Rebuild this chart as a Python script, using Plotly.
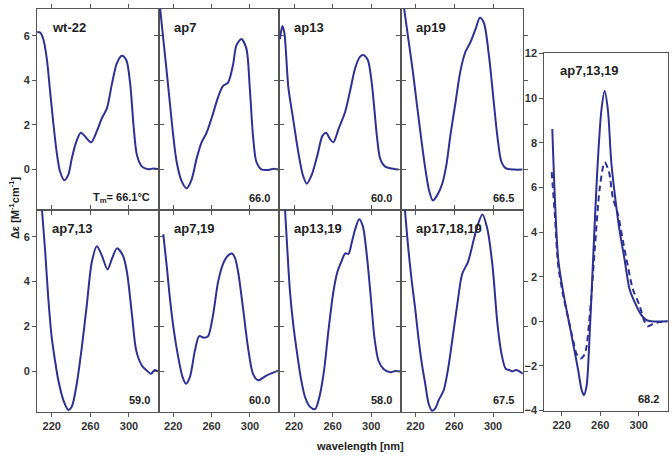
import plotly.graph_objects as go

W, H = 672, 459

# ---------------- data (wavelength nm, delta-epsilon) ----------------
wt22_x = [205, 208, 211.2, 214.8, 218.2, 221.6, 225.1, 228.6, 233, 237.2, 240.7, 245.2, 250.1, 255.6, 260.8, 266.7, 271.9, 277.1, 282.3, 287.5, 292.7, 297.2, 301.3, 304.8, 308.3, 313.5, 320.4, 325, 330]
wt22_y = [6.17, 6.14, 5.85, 4.98, 3.54, 2.09, 0.78, -0.09, -0.48, -0.23, 0.49, 1.22, 1.65, 1.43, 1.22, 1.72, 2.30, 2.74, 3.83, 4.77, 5.10, 4.91, 3.83, 1.94, 0.64, 0.13, 0.01, 0.05, 0.02]

ap7_x = [205, 209.7, 213.2, 216.6, 220.1, 223.6, 228.8, 234, 239.2, 244.4, 249.6, 254.8, 261.6, 266.8, 272, 277.2, 282.4, 285.9, 291.1, 296.3, 299.8, 303.2, 306.7, 311.9, 320.5, 324, 329.5]
ap7_y = [7.8, 5.85, 4.41, 2.96, 1.51, 0.35, -0.52, -0.84, -0.45, 0.49, 1.22, 1.65, 2.52, 3.25, 3.75, 3.90, 4.70, 5.57, 5.85, 5.42, 3.68, 1.51, 0.35, 0.01, -0.01, 0.03, 0.0]

ap13_x = [205.4, 207.8, 209.9, 214.1, 219.2, 224.4, 229, 233.2, 238.4, 244.2, 249.4, 253.2, 257.4, 260.8, 266, 273, 278.2, 283.4, 288.5, 292, 296.5, 300.7, 305.9, 309.3, 314.5, 319.7, 328.4]
ap13_y = [5.85, 6.43, 6.14, 3.68, 2.23, 0.78, -0.23, -0.64, -0.23, 0.64, 1.51, 1.65, 1.36, 1.22, 1.80, 2.59, 3.54, 4.55, 5.06, 5.13, 4.91, 3.83, 1.51, 0.49, 0.13, 0.06, 0.0]

ap19_x = [207, 212.6, 217.2, 221.3, 225.5, 230, 234.1, 237.9, 242.1, 247.3, 251.8, 255.9, 261.1, 266.3, 271.5, 276.7, 281.9, 286.4, 290.5, 295.7, 300.9, 304.4, 308.6, 313, 321.7, 330.4]
ap19_y = [7.6, 5.85, 4.41, 2.96, 1.51, 0.06, -0.96, -1.39, -1.17, -0.67, 0.20, 1.51, 2.96, 4.41, 5.28, 5.71, 6.29, 6.80, 6.58, 5.13, 2.96, 1.51, 0.35, 0.06, 0.0, 0.0]

ap7_13_x = [208, 213, 216.4, 220, 223.4, 226.8, 232, 237.2, 240.7, 245.9, 251.1, 256.3, 261.5, 266.7, 271.9, 277.8, 282.3, 287.5, 293.7, 297.9, 303.1, 307.6, 313.5, 318.7, 322.8, 326.6, 330.7]
ap7_13_y = [8.2, 5.45, 3.26, 1.50, 0.48, -0.39, -1.27, -1.71, -1.57, -0.54, 1.07, 2.96, 4.87, 5.57, 5.16, 4.54, 5.01, 5.48, 5.16, 4.43, 2.53, 0.92, 0.26, 0.04, -0.10, 0.07, 0.0]

ap7_19_x = [209.7, 213.2, 216.6, 220.8, 225.3, 229.8, 233.3, 237.4, 242.6, 247.1, 252, 256.4, 261.6, 266.8, 272, 277.2, 281.2, 284.5, 288, 292.8, 298, 303.2, 308.4, 317.1, 329.2]
ap7_19_y = [6.11, 4.72, 3.26, 1.80, 0.63, -0.25, -0.54, -0.25, 0.92, 1.58, 1.50, 1.58, 2.53, 3.99, 4.79, 5.16, 5.25, 5.05, 4.35, 2.82, 1.07, -0.10, -0.39, -0.18, 0.04]

ap13_19_x = [209, 213, 215.8, 219.2, 222.8, 226.9, 231.4, 236.6, 241.8, 246.3, 251.1, 255.6, 260.8, 264.9, 269.5, 273, 276.4, 279.9, 283.4, 287.5, 291.3, 295.5, 299.7, 303.4, 307.6, 312.8, 319.7, 324.9, 330]
ap13_19_y = [8.4, 5.45, 3.55, 2.09, 0.92, -0.25, -1.13, -1.57, -1.67, -1.13, 0.04, 1.80, 3.55, 4.43, 4.94, 5.26, 5.23, 5.75, 6.33, 6.77, 6.47, 5.16, 3.26, 1.50, 0.48, 0.11, -0.03, 0.02, 0.0]

ap17_18_19_x = [207.5, 212.6, 216.2, 219.6, 223, 226.6, 230, 233.5, 237, 240.4, 243.9, 249.1, 253.3, 257.8, 263, 268.2, 274.1, 278.6, 283.8, 289, 294.2, 299.4, 304.6, 308.8, 313.2, 316.7, 320.2, 323.6, 327.1, 331.5]
ap17_18_19_y = [8.0, 5.45, 3.99, 2.82, 1.50, 0.33, -0.54, -1.42, -1.74, -1.64, -1.27, -0.83, 0.04, 1.36, 2.96, 4.35, 4.87, 5.60, 6.47, 6.99, 6.33, 4.72, 2.09, 0.77, 0.11, 0.07, 0.01, 0.07, 0.01, -0.11]

ap7_13_19_x = [210.3, 213.1, 216.5, 221.6, 226.8, 232, 237.1, 240.6, 243, 245.8, 249.2, 252.6, 256.7, 261.2, 264.6, 268, 271.5, 276, 280.1, 285.3, 290.4, 295.6, 302.5, 307.6, 312.8, 330]
ap7_13_19_y = [8.62, 5.38, 2.76, 1.31, 0.14, -1.02, -2.18, -3.05, -3.30, -2.91, -0.44, 2.76, 6.54, 9.45, 10.32, 9.45, 7.13, 5.38, 4.07, 2.76, 1.45, 0.87, 0.29, 0.07, 0.0, 0.0]
ap7_13_19_b_x = [209.7, 213.1, 216.5, 221.6, 226.8, 232, 235.5, 239.6, 244, 249.2, 254.3, 259.5, 264.6, 269.1, 273.2, 278.4, 283.5, 288.7, 293.8, 300.7, 305.9, 309.3, 314.4, 321.3, 330]
ap7_13_19_b_y = [6.69, 4.65, 2.47, 1.16, 0.14, -0.87, -1.46, -1.67, -1.46, 0.29, 3.2, 5.96, 7.13, 6.69, 5.52, 4.80, 3.63, 2.47, 1.45, 0.72, 0.0, -0.22, -0.12, -0.03, 0.0]

names = ["wt-22", "ap7", "ap13", "ap19", "ap7,13", "ap7,19", "ap13,19", "ap17,18,19"]
tm_labels = ["T<sub>m</sub>= 66.1°C", "66.0", "60.0", "66.5", "59.0", "60.0", "58.0", "67.5"]
series = [(wt22_x, wt22_y), (ap7_x, ap7_y), (ap13_x, ap13_y), (ap19_x, ap19_y),
          (ap7_13_x, ap7_13_y), (ap7_19_x, ap7_19_y), (ap13_19_x, ap13_19_y),
          (ap17_18_19_x, ap17_18_19_y)]
big_name = "ap7,13,19"
big_tm = "68.2"

x_ticks = [220, 260, 300]
y_ticks_small = [0, 2, 4, 6]
y_ticks_big = [-4, -2, 0, 2, 4, 6, 8, 10, 12]

# ---------------- styling ----------------
LINE = "#2c3192"
AX = "#555555"
TXT = "#333333"
FONT = "Liberation Sans"

def px(x):
    return x / W

def py(y):
    return 1 - y / H

col_edges = [37, 158.5, 279.3, 400.7, 522.7]
row_edges = [(3, 208.7), (208.7, 416)]

fig = go.Figure()
layout = dict(
    width=W, height=H, margin=dict(l=0, r=0, t=0, b=0),
    paper_bgcolor="white", plot_bgcolor="white", showlegend=False,
    font=dict(family=FONT, size=11, color=TXT),
)
annotations = []

for i, (xs, ys) in enumerate(series):
    r, c = divmod(i, 4)
    n = i + 1
    xa = "xaxis" if n == 1 else f"xaxis{n}"
    ya = "yaxis" if n == 1 else f"yaxis{n}"
    xr = "x" if n == 1 else f"x{n}"
    yr = "y" if n == 1 else f"y{n}"
    fig.add_trace(go.Scatter(x=xs, y=ys, mode="lines", xaxis=xr, yaxis=yr,
                             line=dict(color=LINE, width=2, shape="spline", smoothing=0.8)))
    x0, x1 = col_edges[c], col_edges[c + 1]
    y0, y1 = row_edges[r]
    layout[xa] = dict(domain=[px(x0), px(x1)], anchor=yr, range=[204.7, 330.6],
                      tickvals=x_ticks, showticklabels=(r == 1), ticks="outside",
                      ticklen=4, tickcolor=AX, showline=True, linecolor=AX, linewidth=1,
                      mirror="ticks", showgrid=False, zeroline=False,
                      tickfont=dict(family=FONT, size=11, color=TXT, weight="bold"))
    layout[ya] = dict(domain=[py(y1), py(y0)], anchor=xr, range=[-1.8, 7.2],
                      tickvals=y_ticks_small, showticklabels=(c == 0), ticks="outside",
                      ticklen=4, tickcolor=AX, showline=True, linecolor=AX, linewidth=1,
                      mirror="ticks", showgrid=False, zeroline=False,
                      tickfont=dict(family=FONT, size=11, color=TXT, weight="bold"))
    annotations.append(dict(text=f"<b>{names[i]}</b>", xref="paper", yref="paper",
                            x=px(x0 + 13), y=py(y0 + 19), xanchor="left", yanchor="middle",
                            showarrow=False, font=dict(family=FONT, size=13, color="#222222")))
    annotations.append(dict(text=tm_labels[i], xref="paper", yref="paper",
                            x=px(x1 - 7), y=py(y1 - 12), xanchor="right", yanchor="middle",
                            showarrow=False, font=dict(family=FONT, size=11, color="#222222", weight="bold")))

# right big panel
fig.add_trace(go.Scatter(x=ap7_13_19_x, y=ap7_13_19_y, mode="lines", xaxis="x9", yaxis="y9",
                         line=dict(color=LINE, width=2, shape="spline", smoothing=0.8)))
fig.add_trace(go.Scatter(x=ap7_13_19_b_x, y=ap7_13_19_b_y, mode="lines", xaxis="x9", yaxis="y9",
                         line=dict(color=LINE, width=2, dash="6px,4px", shape="spline", smoothing=0.8)))
layout["xaxis9"] = dict(domain=[px(544.3), px(667.7)], anchor="y9", range=[202, 330],
                        tickvals=x_ticks, ticks="outside", ticklen=4, tickcolor=AX,
                        showline=True, linecolor=AX, linewidth=1, mirror=True,
                        showgrid=False, zeroline=False,
                        tickfont=dict(family=FONT, size=11, color=TXT, weight="bold"))
layout["yaxis9"] = dict(domain=[py(415), py(48.3)], anchor="x9", range=[-4.02, 12.02],
                        tickvals=y_ticks_big, ticks="outside", ticklen=4, tickcolor=AX,
                        showline=True, linecolor=AX, linewidth=1, mirror=True,
                        showgrid=False, zeroline=False,
                        tickfont=dict(family=FONT, size=11, color=TXT, weight="bold"))
annotations.append(dict(text=f"<b>{big_name}</b>", xref="paper", yref="paper",
                        x=px(558), y=py(66), xanchor="left", yanchor="middle",
                        showarrow=False, font=dict(family=FONT, size=13, color="#222222")))
annotations.append(dict(text=big_tm, xref="paper", yref="paper",
                        x=px(661), y=py(403), xanchor="right", yanchor="middle",
                        showarrow=False, font=dict(family=FONT, size=11, color="#222222", weight="bold")))

# axis titles
annotations.append(dict(text="<b>wavelength [nm]</b>", xref="paper", yref="paper",
                        x=px(360), y=py(451), xanchor="center", yanchor="middle",
                        showarrow=False, font=dict(family=FONT, size=11, color="#222222")))
annotations.append(dict(text="<b>Δε [M<sup>-1</sup>cm<sup>-1</sup>]</b>", xref="paper", yref="paper",
                        x=px(14), y=py(207), xanchor="center", yanchor="middle", textangle=-90,
                        showarrow=False, font=dict(family=FONT, size=11, color="#222222")))

layout["annotations"] = annotations
fig.update_layout(**layout)
fig.write_html("out.html", config={"displayModeBar": False},
               post_script="document.body.style.margin='0';document.body.style.padding='0';document.body.style.overflow='hidden';")
